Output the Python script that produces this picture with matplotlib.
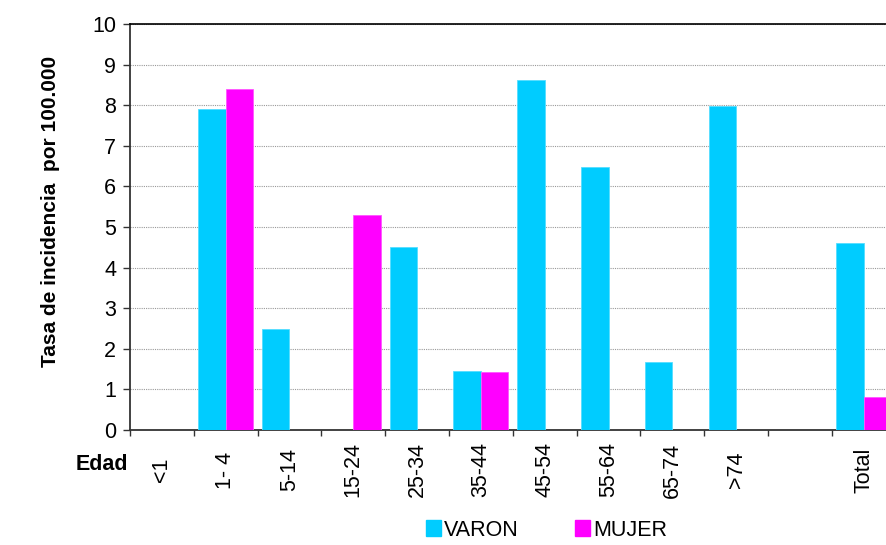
import matplotlib
matplotlib.use("Agg")
from matplotlib import pyplot as plt
import matplotlib.transforms as mtransforms
from matplotlib.patches import Patch
import numpy as np

plt.rcParams['font.family'] = ['Liberation Sans', 'DejaVu Sans']

# datos
edades = ['<1', '1- 4', '5-14', '15-24', '25-34', '35-44', '45-54', '55-64', '65-74', '>74', '', 'Total']
varon = [0, 7.9, 2.5, 0, 4.5, 1.45, 8.62, 6.48, 1.67, 7.98, 0, 4.6]
mujer = [0, 8.4, 0, 5.3, 0, 1.43, 0, 0, 0, 0, 0, 0.82]

c_varon = '#00CCFF'
c_mujer = '#FF00FF'

fig = plt.figure(figsize=(8.86, 5.45), dpi=100)
# el area de trazado sale un poco por la derecha, como en el original
ax = fig.add_axes([130 / 886, 1 - 430 / 545, 765.6 / 886, 406 / 545])

x = np.arange(len(edades))
w = 0.43
ax.bar(x - w / 2, varon, width=w, color=c_varon, edgecolor='#55DDFF', linewidth=0.6, zorder=3)
ax.bar(x + w / 2, mujer, width=w, color=c_mujer, edgecolor='#FF55FF', linewidth=0.6, zorder=3)

ax.set_xlim(-0.5, len(edades) - 0.5)
ax.set_ylim(0, 10)
ax.set_yticks(range(0, 11))
ax.yaxis.grid(True, linestyle=(0, (1, 1)), color='#999999', linewidth=0.8, zorder=0)
ax.set_axisbelow(True)

# ticks del eje x en los limites de cada categoria
ax.set_xticks(np.arange(-0.5, len(edades) - 0.4, 1))
ax.set_xticklabels([])
ax.tick_params(axis='x', direction='out', length=4, width=1, color='#333333')
ax.tick_params(axis='y', direction='out', length=5, width=1, color='#333333',
               labelsize=15.5, pad=5)

for s in ['left', 'bottom']:
    ax.spines[s].set_color('#333333')
    ax.spines[s].set_linewidth(1.3)
ax.spines['top'].set_color('black')
ax.spines['top'].set_linewidth(1.2)
ax.spines['right'].set_visible(False)

# etiquetas de edad giradas
trans = mtransforms.blended_transform_factory(ax.transData, ax.transAxes)
for xi, lab in zip(x, edades):
    ax.text(xi, -0.0985, lab, transform=trans, rotation=90,
            ha='center', va='center', fontsize=15.5)

fig.text(102 / 886, 1 - 464 / 545, 'Edad', fontsize=15.5, fontweight='bold',
         ha='center', va='center')
fig.text(51 / 886, 1 - 211 / 545, 'Tasa de incidencia  por 100.000', rotation=90,
         fontsize=15, fontweight='bold', ha='center', va='center')

handles = [Patch(facecolor=c_varon, edgecolor=c_varon, label='VARON'),
           Patch(facecolor=c_mujer, edgecolor=c_mujer, label='MUJER')]
fig.legend(handles=handles, loc='center', bbox_to_anchor=(546.5 / 886, 1 - 530 / 545),
           ncol=2, frameon=False, fontsize=15.5, handlelength=0.7, handleheight=0.7,
           handletextpad=0.15, columnspacing=2.6)

fig.savefig('out.png', dpi=100)
